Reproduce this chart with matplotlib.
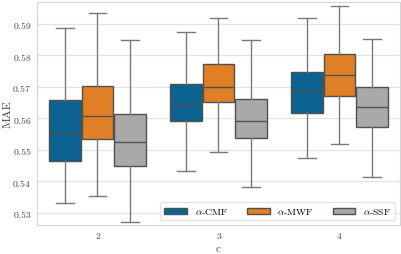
import numpy as np
import matplotlib
matplotlib.use("Agg")
import matplotlib.pyplot as plt
from matplotlib.patches import Patch

plt.rcParams['font.family'] = ['cmr10', 'DejaVu Serif']
plt.rcParams['mathtext.fontset'] = 'cm'
plt.rcParams['axes.formatter.use_mathtext'] = True

# values: (whisker low, q1, median, q3, whisker high)
groups = ['2', '3', '4']
methods = [r'$\alpha$-CMF', r'$\alpha$-MWF', r'$\alpha$-SSF']
colors = ['#0c6391', '#e17f26', '#a9a9a9']

cmf = [(0.5331, 0.5466, 0.5552, 0.5657, 0.5887),
       (0.5432, 0.5592, 0.5641, 0.5710, 0.5874),
       (0.5475, 0.5617, 0.5685, 0.5747, 0.5919)]
mwf = [(0.5355, 0.5534, 0.5608, 0.5702, 0.5934),
       (0.5494, 0.5650, 0.5700, 0.5771, 0.5916),
       (0.5517, 0.5672, 0.5736, 0.5803, 0.5957)]
ssf = [(0.5271, 0.5450, 0.5524, 0.5612, 0.5847),
       (0.5381, 0.5537, 0.5590, 0.5661, 0.5847),
       (0.5415, 0.5573, 0.5634, 0.5698, 0.5852)]

fig = plt.figure(figsize=(4.02, 2.55), dpi=100)
ax = fig.add_axes([0.092, 0.114, 0.903, 0.874])

w = 0.8 / 3
for k, (data, col) in enumerate(zip([cmf, mwf, ssf], colors)):
    stats = []
    for lo, q1, med, q3, hi in data:
        stats.append(dict(whislo=lo, q1=q1, med=med, q3=q3, whishi=hi, fliers=[]))
    pos = np.arange(len(groups)) + (k - 1) * w
    ax.bxp(stats, positions=pos, widths=w * 0.99, patch_artist=True,
           showfliers=False, manage_ticks=False,
           boxprops=dict(facecolor=col, edgecolor='#505050', linewidth=1.0),
           medianprops=dict(color='#505050', linewidth=1.0),
           whiskerprops=dict(color='#7a7a7a', linewidth=1.0),
           capprops=dict(color='#7a7a7a', linewidth=1.0),
           capwidths=w * 0.55)

ax.set_xlim(-0.5, 2.5)
ax.set_ylim(0.5262, 0.5968)
ax.set_xticks(range(len(groups)))
ax.set_xticklabels(groups)
ax.set_yticks([0.53, 0.54, 0.55, 0.56, 0.57, 0.58, 0.59])
ax.yaxis.grid(True, color='#e3e3e3', linewidth=0.9)
ax.set_axisbelow(True)
ax.tick_params(axis='y', length=0, labelsize=7, colors='#444444', pad=4)
ax.tick_params(axis='x', length=0, labelsize=7, colors='#444444', pad=5)
for s in ax.spines.values():
    s.set_color('#d5d5d5')
ax.set_xlabel('c', fontsize=8, color='#444444', labelpad=2)
ax.set_ylabel('MAE', fontsize=8.5, color='#444444')
ax.yaxis.set_label_coords(-0.068, 0.5)

handles = [Patch(facecolor=c, edgecolor='#505050', linewidth=1.0) for c in colors]
ax.legend(handles, methods, loc='lower right', ncol=3, fontsize=7,
          handlelength=2.3, handleheight=0.6, columnspacing=2.0,
          frameon=True, borderaxespad=0.5, edgecolor='#dddddd')

fig.savefig('out.png', dpi=100)
